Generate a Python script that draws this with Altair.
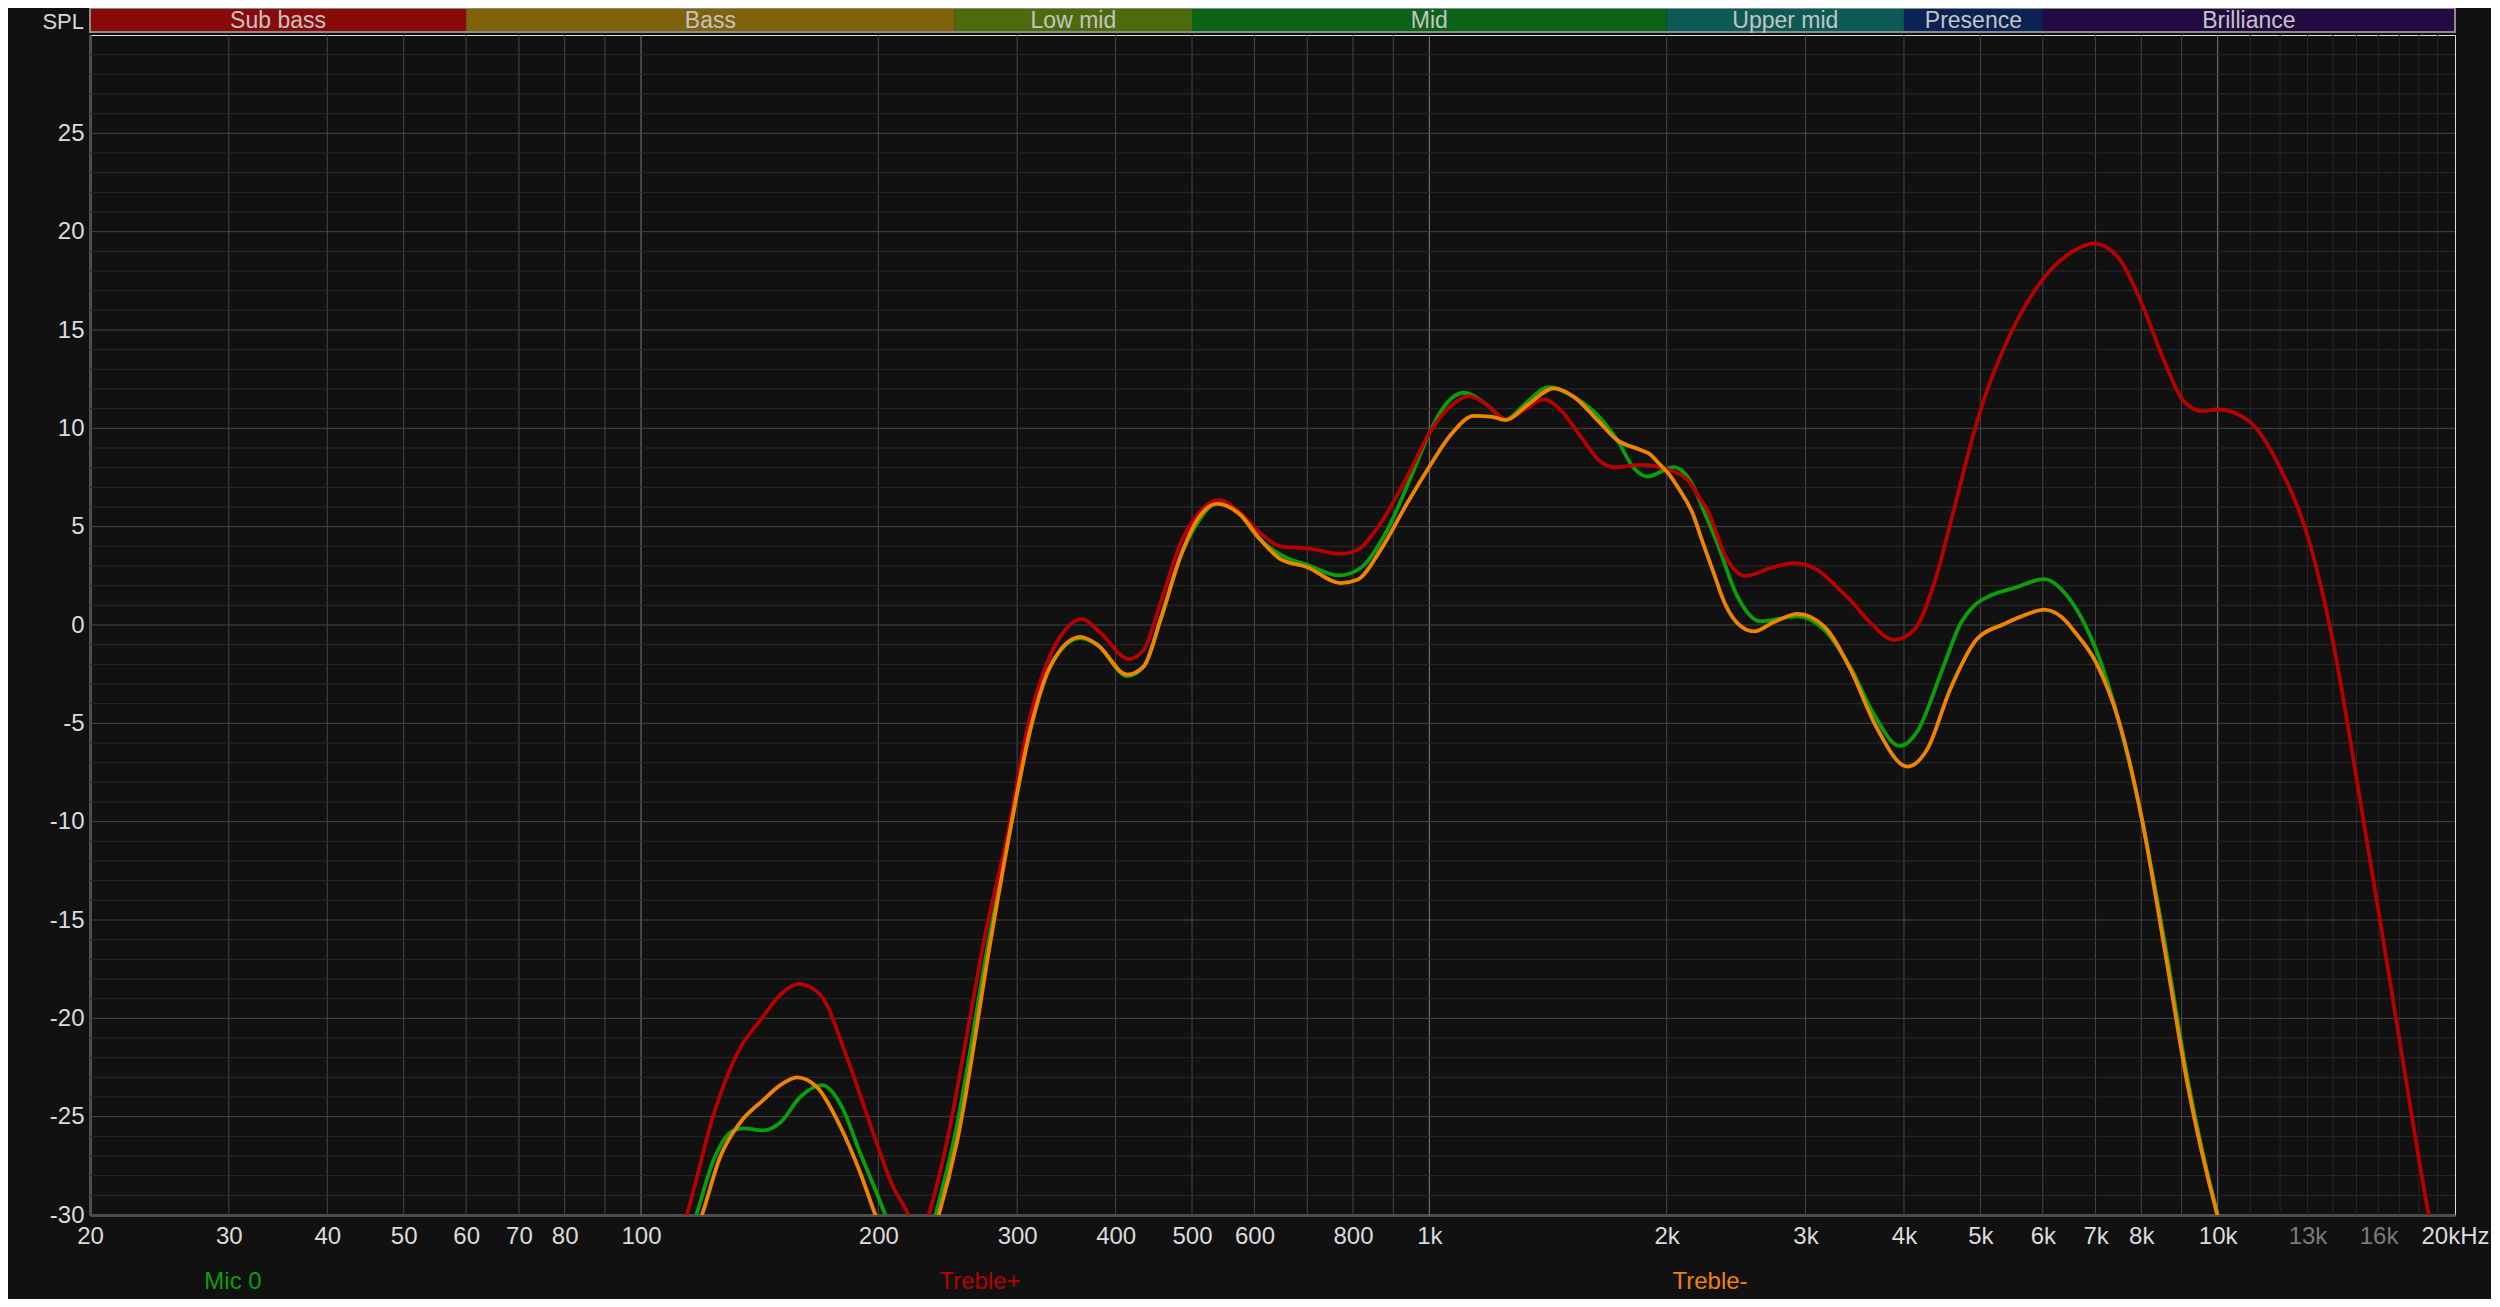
import altair as alt
import pandas as pd

# ---------------- data ----------------
series_names = ["Mic 0", "Treble+", "Treble-"]

mic0_freq = [110, 117.5, 123.6, 131, 134.9, 143, 150.2, 159.2, 169.7, 179,
             189.9, 204.1, 220, 236.3, 249.4, 276, 294, 311.8, 330.5, 361,
             379, 413.8, 434.3, 456, 483.5, 507.7, 538, 576, 604.8, 653.7,
             700, 767.9, 818, 884.5, 955.9, 1000, 1033.5, 1106.4, 1184.6, 1249.7,
             1331.4, 1418.5, 1525, 1634, 1731.6, 1817.7, 1891, 2043.5, 2146, 2240,
             2318, 2458.7, 2632, 2931, 3168, 3425, 3663, 3950, 4160, 4478,
             4722, 4900, 5150, 5518, 6025, 6405, 6771, 7006, 7490, 8012, 8566,
             9161, 10000, 10500]
mic0_db = [-33, -30, -27.2, -25.7, -25.6, -25.7, -25.3, -24.0, -23.4, -24.35,
           -26.9, -30, -34, -30, -26.2, -16.1, -10.4, -5.3, -2.1, -0.66,
           -1.0, -2.6, -2.1, 0.27, 3.49, 5.18, 6.2, 5.6, 4.5, 3.49,
           3.06, 2.52, 2.9, 4.84, 7.9, 9.75, 10.85, 11.81, 11.18, 10.46,
           11.35, 12.1, 11.6, 10.68, 9.4, 7.97, 7.55, 8.03, 7.3, 5.6,
           4.17, 1.46, 0.19, 0.44, -0.24, -2.2, -4.54, -6.15, -5.4, -2.22,
           0.1, 0.95, 1.5, 1.88, 2.33, 1.6, 0.1, -1.23, -4.87, -9.84, -16.14,
           -23.1, -30, -33]

treble_plus_freq = [105, 114.3, 123.6, 133.6, 141.7, 150.2, 158.5, 168.8, 182.5, 197.3,
                    209, 218.4, 225, 231.7, 244.6, 260.5, 272.2, 292.6, 308.9, 327.4,
                    340.4, 362.8, 382.6, 415.8, 434.3, 456, 483.5, 507.7, 540.7, 570.4,
                    610.7, 647.4, 700, 771.7, 810.3, 867.4, 937.5, 1000, 1064, 1122.5,
                    1184.6, 1249.7, 1318.6, 1398, 1467.9, 1556, 1649.9, 1714.8, 1854, 2000,
                    2124.6, 2209, 2252.6, 2375, 2519, 2710, 2902, 3107, 3294, 3450,
                    3600, 3890, 4130, 4368, 4630, 4908, 5066, 5359, 6025, 6550,
                    6965, 7490, 8012, 8566, 9058, 9576, 10000,
                    10953, 11978, 13102, 14010, 15152, 16385, 17327, 18527, 19500]
treble_plus_db = [-34, -30, -24.9, -21.5, -20.1, -18.8, -18.25, -18.8, -22.0, -25.9,
                  -28.6, -30, -31.5, -30, -26.2, -20.3, -16.1, -10.4, -5.3, -1.93,
                  -0.58, 0.3, -0.4, -1.73, -1.25, 1.12, 4.16, 5.6, 6.36, 5.85,
                  4.67, 4.0, 3.9, 3.62, 3.82, 5.18, 7.55, 9.75, 11.13, 11.64,
                  11.18, 10.46, 10.93, 11.47, 10.93, 9.58, 8.3, 8.02, 8.14, 7.92,
                  7.38, 6.37, 5.85, 3.49, 2.5, 2.9, 3.15, 2.8, 1.9, 1.1,
                  0.25, -0.75, -0.2, 2.1, 5.9, 9.8, 11.6, 14.1, 17.67, 19.0,
                  19.4, 18.66, 16.34, 13.36, 11.37, 10.87, 10.97,
                  10.37, 8.05, 4.08, -0.9, -8.85, -17.1, -23.1, -30, -34]

treble_minus_freq = [112, 119.5, 126, 133.6, 143, 150.2, 157.7, 167.2, 179, 189.9,
                     198.3, 218, 238.6, 251.9, 277.5, 294, 311.8, 330.5, 361, 379,
                     413.8, 434.3, 456, 483.5, 507.7, 538, 576, 610.7, 647.4, 700,
                     771.7, 810.3, 867.4, 937.5, 1000, 1064, 1139, 1196, 1249.7, 1331.4,
                     1439.4, 1525, 1634, 1731.6, 1854, 1908.7, 1946, 2023.5, 2063.8, 2165,
                     2209, 2318, 2341.6, 2458.7, 2581, 2736.5, 2931, 3168, 3425, 3680,
                     4041, 4284, 4580, 4954, 5359, 5650, 6025, 6451, 6550, 7006,
                     7490, 8012, 8566, 9161, 9990, 10500]
treble_minus_db = [-33, -30, -27.05, -25.3, -24.15, -23.4, -23.0, -23.5, -25.5, -27.9,
                   -30, -34, -30, -26.2, -16.1, -10.4, -5.3, -2.1, -0.6, -1.0,
                   -2.52, -2.1, 0.27, 3.49, 5.35, 6.16, 5.6, 4.33, 3.35, 2.94,
                   2.13, 2.3, 3.82, 6.2, 8.05, 9.66, 10.63, 10.6, 10.42, 11.18,
                   12.03, 11.6, 10.42, 9.4, 8.9, 8.66, 8.3, 7.56, 7.04, 5.53,
                   4.5, 2.14, 1.62, 0.1, -0.32, 0.15, 0.57, -0.07, -2.3, -5.1,
                   -7.2, -6.3, -3.25, -0.7, 0.05, 0.45, 0.78, 0.1, -0.23, -1.89,
                   -4.87, -9.84, -16.5, -23.4, -30, -33]

band_names = ["Sub bass", "Bass", "Low mid", "Mid", "Upper mid", "Presence", "Brilliance"]
band_start = [20, 60, 250, 500, 2000, 4000, 6000]
band_end = [60, 250, 500, 2000, 4000, 6000, 20000]

x_tick_values = [20, 30, 40, 50, 60, 70, 80, 100, 200, 300, 400, 500, 600, 800,
                 1000, 2000, 3000, 4000, 5000, 6000, 7000, 8000, 10000, 13000, 16000, 20000]
x_tick_labels = ["20", "30", "40", "50", "60", "70", "80", "100", "200", "300", "400", "500",
                 "600", "800", "1k", "2k", "3k", "4k", "5k", "6k", "7k", "8k", "10k", "13k",
                 "16k", "20kHz"]
x_dim_labels = [13000, 16000]
y_tick_values = [-30, -25, -20, -15, -10, -5, 0, 5, 10, 15, 20, 25]

grid_normal_freqs = [30, 40, 50, 60, 70, 80, 90, 200, 300, 400, 500, 600, 700, 800, 900,
                     2000, 3000, 4000, 5000, 6000, 7000, 8000, 9000]
grid_decade_freqs = [100, 1000, 10000]
grid_fine_freqs = [11000, 12000, 13000, 14000, 15000, 16000, 17000, 18000, 19000]
grid_major_db = [-25, -20, -15, -10, -5, 0, 5, 10, 15, 20, 25]
grid_minor_db = [d for d in range(-29, 30) if d % 5 != 0]

# ---------------- style ----------------
W, H = 2365, 1180
BG = "#111111"
FONT = "Liberation Sans"
series_colors = {"Mic 0": "#0a9e0a", "Treble+": "#b80000", "Treble-": "#f08300"}
band_colors = {"Sub bass": "#8a0a0a", "Bass": "#80620a", "Low mid": "#4e6b0c",
               "Mid": "#0b6318", "Upper mid": "#0b5a54", "Presence": "#0b2254",
               "Brilliance": "#220a40"}

x_scale = alt.Scale(type="log", domain=[20, 20000], nice=False)
y_scale = alt.Scale(domain=[-30, 30], nice=False, zero=False)

label_expr = " : ".join(
    f"datum.value == {v} ? '{t}'" for v, t in zip(x_tick_values, x_tick_labels)
) + " : ''"
dim_test = " || ".join(f"datum.value == {v}" for v in x_dim_labels)

x_axis = alt.Axis(values=x_tick_values, labelExpr=label_expr, grid=False, ticks=False,
                  domain=True, domainColor="#4d4d4d", domainWidth=3, title=None,
                  labelFontSize=24, labelFont=FONT, labelPadding=9, labelFlush=False,
                  labelOverlap=False, labelBound=False,
                  labelColor={"condition": {"test": dim_test, "value": "#7a7a7a"},
                              "value": "#dcdcdc"})
y_axis = alt.Axis(values=y_tick_values, labelExpr="datum.value + ''", grid=False, ticks=False,
                  domain=True, domainColor="#4d4d4d", domainWidth=3, title=None,
                  labelFontSize=24, labelFont=FONT, labelPadding=6, labelFlush=False,
                  labelOverlap=False, labelColor="#dcdcdc")

X = lambda f: alt.X(f, type="quantitative", scale=x_scale, axis=x_axis)
Y = lambda f: alt.Y(f, type="quantitative", scale=y_scale, axis=y_axis)

# ---------------- grid ----------------
vgrid_df = pd.DataFrame({
    "f": grid_normal_freqs + grid_decade_freqs + grid_fine_freqs,
    "c": ["#474747"] * len(grid_normal_freqs) + ["#7c7c7c"] * len(grid_decade_freqs)
         + ["#262626"] * len(grid_fine_freqs),
})
hgrid_df = pd.DataFrame({
    "db": grid_minor_db + grid_major_db,
    "c": ["#2a2a2a"] * len(grid_minor_db) + ["#474747"] * len(grid_major_db),
})
vgrid = alt.Chart(vgrid_df).mark_rule(strokeWidth=1).encode(
    x=X("f"), color=alt.Color("c:N", scale=None))
hgrid = alt.Chart(hgrid_df).mark_rule(strokeWidth=1).encode(
    y=Y("db"), color=alt.Color("c:N", scale=None))

# ---------------- bands ----------------
band_df = pd.DataFrame({"band": band_names, "start": band_start, "end": band_end})
band_df["col"] = band_df["band"].map(band_colors)
bands = alt.Chart(band_df).mark_rect().encode(
    x=X("start"), x2="end", y=alt.value(-27), y2=alt.value(-3),
    color=alt.Color("col:N", scale=None))
band_border = alt.Chart(pd.DataFrame({"s": [20], "e": [20000]})).mark_rect(
    fill=None, stroke="#8c8c8c", strokeWidth=2).encode(
    x=X("s"), x2="e", y=alt.value(-27), y2=alt.value(-3))
band_text = alt.Chart(band_df).transform_calculate(
    mid="sqrt(datum.start * datum.end)").mark_text(
    font=FONT, fontSize=23, color="#c4c4c4", baseline="middle", align="center").encode(
    x=X("mid"), y=alt.value(-14), text="band:N")

# ---------------- curves ----------------
def curve(freqs, dbs, name):
    assert len(freqs) == len(dbs)
    df = pd.DataFrame({"f": freqs, "db": dbs})
    return alt.Chart(df).mark_line(clip=True, interpolate="monotone",
                                   color=series_colors[name], strokeWidth=3.8).encode(
        x=X("f"), y=Y("db"))

line_mic0 = curve(mic0_freq, mic0_db, "Mic 0")
line_tp = curve(treble_plus_freq, treble_plus_db, "Treble+")
line_tm = curve(treble_minus_freq, treble_minus_db, "Treble-")

# ---------------- texts ----------------
spl = alt.Chart(pd.DataFrame({"t": ["SPL"]})).mark_text(
    font=FONT, fontSize=22, color="#d8d8d8", align="right", baseline="middle").encode(
    x=alt.value(-6), y=alt.value(-13), text="t:N")

legend_x = [143, 890, 1620]
legend_layers = []
for name, lx in zip(series_names, legend_x):
    legend_layers.append(
        alt.Chart(pd.DataFrame({"t": [name]})).mark_text(
            font=FONT, fontSize=24, color=series_colors[name], align="center",
            baseline="middle").encode(x=alt.value(lx), y=alt.value(1247), text="t:N"))

chart = alt.layer(
    vgrid, hgrid, bands, band_border, band_text,
    line_mic0, line_tp, line_tm, spl, *legend_layers
).properties(
    width=W, height=H,
    autosize=alt.AutoSizeParams(type="none"),
    padding={"left": 82, "top": 27, "right": 36, "bottom": 84},
    background=BG,
).configure_view(stroke="#4d4d4d", strokeWidth=2).configure(font=FONT)

chart.save("out.html", embed_options={"renderer": "svg", "actions": False})
